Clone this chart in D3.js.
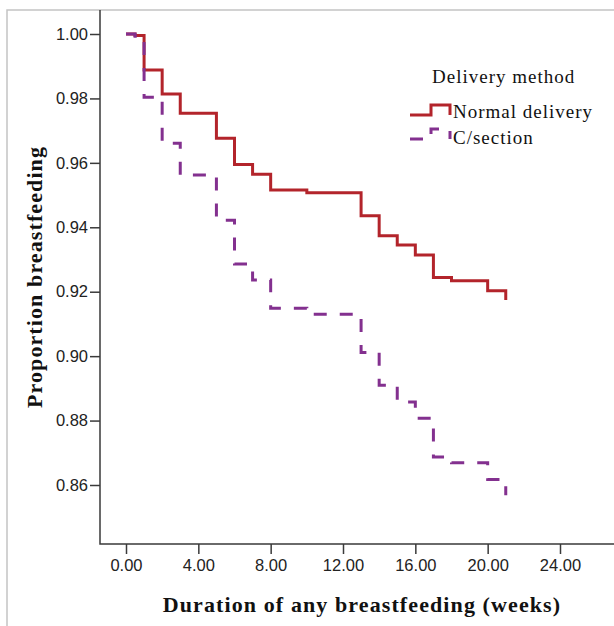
<!DOCTYPE html>
<html>
<head>
<meta charset="utf-8">
<script src="https://cdn.jsdelivr.net/npm/d3@7"></script>
<style>
  html, body { margin: 0; padding: 0; background: #fff; }
  svg { display: block; }
</style>
</head>
<body>
<svg id="chart" width="614" height="626"></svg>
<script>
// Kaplan–Meier style survival steps: week, proportion still breastfeeding
const normalWeeks  = [0, 0.5, 1, 2, 3, 5, 6, 7, 8, 10, 13, 14, 15, 16, 17, 18, 20, 21];
const normalValues = [1.0, 0.9995, 0.9888, 0.9814, 0.9754, 0.9676, 0.9595, 0.9565, 0.9516, 0.9507,
                      0.9436, 0.9374, 0.9345, 0.9314, 0.9244, 0.9234, 0.9203, 0.9174];
const csectionWeeks  = [0, 0.5, 1, 2, 3, 5, 6, 7, 8, 10, 13, 14, 15, 16, 17, 18, 20, 21];
const csectionValues = [1.0, 0.9993, 0.9804, 0.9661, 0.9562, 0.9422, 0.9286, 0.9236, 0.9149, 0.9130,
                        0.9011, 0.8910, 0.8858, 0.8807, 0.8687, 0.8669, 0.8617, 0.8568];
const xTicks = [0, 4, 8, 12, 16, 20, 24];
const yTicks = [0.86, 0.88, 0.90, 0.92, 0.94, 0.96, 0.98, 1.00];
const seriesNames = ["Normal delivery", "C/section"];
const legendTitle = "Delivery method";
const xTitle = "Duration of any breastfeeding (weeks)";
const yTitle = "Proportion breastfeeding";

(function () {
  const RED = "#b3242b";
  const PURPLE = "#83308f";
  const AXIS = "#3a3a3a";
  const serif = "'Liberation Serif', 'Times New Roman', serif";
  const sans = "'Liberation Sans', Arial, sans-serif";

  const svg = d3.select("#chart");

  // plot frame bounds
  const frameLeft = 100, frameBottom = 544, frameTop = 10, frameRight = 614;

  const x = d3.scaleLinear().domain([0, 24]).range([126, 560]);
  const y = d3.scaleLinear().domain([0.86, 1.0]).range([485, 34]);

  // outer panel border
  svg.append("rect")
    .attr("x", 7).attr("y", 10).attr("width", 640).attr("height", 640)
    .attr("fill", "none").attr("stroke", "#c4c4c4").attr("stroke-width", 1.5);

  // axes
  const yAxis = d3.axisLeft(y).tickValues(yTicks).tickFormat(d3.format(".2f"))
    .tickSize(10).tickPadding(2);
  const gy = svg.append("g").attr("transform", `translate(${frameLeft},0)`).call(yAxis);
  gy.select(".domain").remove();
  gy.selectAll(".tick line").attr("stroke", AXIS).attr("stroke-width", 1.5);
  gy.selectAll(".tick text").attr("fill", "#222").style("font-family", sans).style("font-size", "16.5px");

  const xAxis = d3.axisBottom(x).tickValues(xTicks).tickFormat(d3.format(".2f"))
    .tickSize(10).tickPadding(5);
  const gx = svg.append("g").attr("transform", `translate(0,${frameBottom})`).call(xAxis);
  gx.select(".domain").remove();
  gx.selectAll(".tick line").attr("stroke", AXIS).attr("stroke-width", 1.5);
  gx.selectAll(".tick text").attr("fill", "#222").style("font-family", sans).style("font-size", "16.5px");

  svg.append("path")
    .attr("d", `M${frameLeft},${frameTop}V${frameBottom}H${frameRight}`)
    .attr("fill", "none").attr("stroke", AXIS).attr("stroke-width", 1.5);

  // survival step curves
  const line = d3.line().curve(d3.curveStepAfter)
    .x(d => x(d[0])).y(d => y(d[1]));

  const normal = d3.zip(normalWeeks, normalValues);
  const csection = d3.zip(csectionWeeks, csectionValues);

  svg.append("path").datum(normal)
    .attr("d", line).attr("fill", "none")
    .attr("stroke", RED).attr("stroke-width", 3);

  svg.append("path").datum(csection)
    .attr("d", line).attr("fill", "none")
    .attr("stroke", PURPLE).attr("stroke-width", 3)
    .attr("stroke-dasharray", "13,13");

  // legend
  svg.append("text")
    .attr("x", 432).attr("y", 83)
    .style("font-family", serif).style("font-size", "19px").style("letter-spacing", "1px")
    .attr("fill", "#111").text(legendTitle);

  const legendSymbol = (x0, yb) => `M${x0},${yb}H${x0 + 21}V${yb - 10}H${x0 + 40}V${yb}`;
  svg.append("path").attr("d", legendSymbol(410, 115))
    .attr("fill", "none").attr("stroke", RED).attr("stroke-width", 3);
  svg.append("path").attr("d", legendSymbol(410, 139))
    .attr("fill", "none").attr("stroke", PURPLE).attr("stroke-width", 3)
    .attr("stroke-dasharray", "13,13");

  svg.selectAll(".legend-label").data(seriesNames).join("text")
    .attr("class", "legend-label")
    .attr("x", 453).attr("y", (d, i) => 118 + i * 26)
    .style("font-family", serif).style("font-size", "19px").style("letter-spacing", "1px")
    .attr("fill", "#111").text(d => d);

  // axis titles
  svg.append("text")
    .attr("x", 362).attr("y", 612).attr("text-anchor", "middle")
    .style("font-family", serif).style("font-size", "22px").style("font-weight", "bold")
    .style("letter-spacing", "1.1px")
    .attr("fill", "#111").text(xTitle);

  svg.append("text")
    .attr("transform", "translate(42,277) rotate(-90)").attr("text-anchor", "middle")
    .style("font-family", serif).style("font-size", "22px").style("font-weight", "bold")
    .style("letter-spacing", "1.1px")
    .attr("fill", "#111").text(yTitle);
})();
</script>
</body>
</html>
